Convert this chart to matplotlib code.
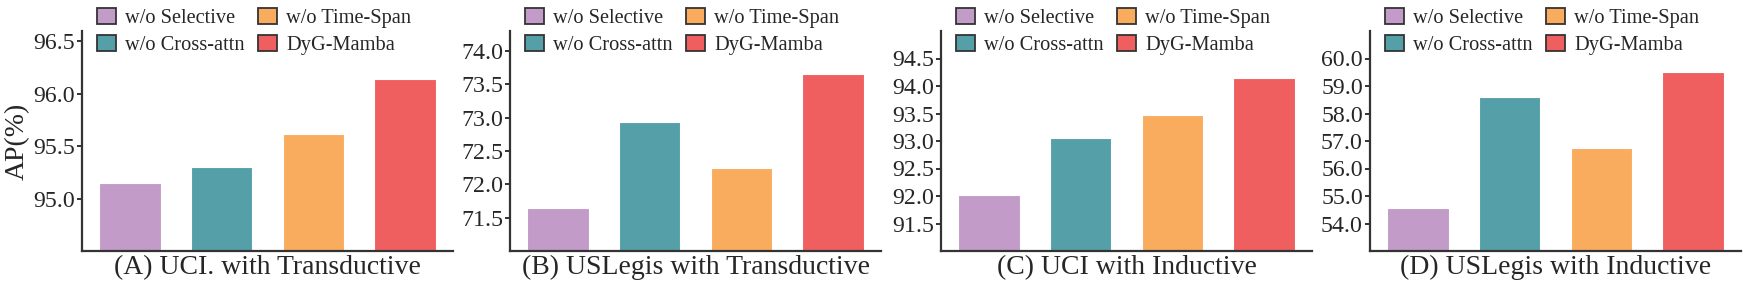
import matplotlib
matplotlib.use("Agg")
import matplotlib.pyplot as plt
from matplotlib.patches import Patch
from matplotlib.ticker import FormatStrFormatter

plt.rcParams['font.family'] = ['Liberation Serif', 'DejaVu Serif']

methods = ["w/o Selective", "w/o Cross-attn", "w/o Time-Span", "DyG-Mamba"]
colors = ["#C39BC9", "#559FA8", "#F9AB5E", "#F05F5F"]

titles = ["(A) UCI. with Transductive", "(B) USLegis with Transductive",
          "(C) UCI with Inductive", "(D) USLegis with Inductive"]
uci_trans = [95.15, 95.30, 95.62, 96.14]
uslegis_trans = [71.64, 72.93, 72.25, 73.65]
uci_ind = [92.01, 93.06, 93.48, 94.15]
uslegis_ind = [54.58, 58.61, 56.75, 59.51]
values = [uci_trans, uslegis_trans, uci_ind, uslegis_ind]

ylims = [(94.5, 96.6), (71.0, 74.3), (91.0, 95.0), (53.0, 61.0)]
yticks = [[95.0, 95.5, 96.0, 96.5],
          [71.5, 72.0, 72.5, 73.0, 73.5, 74.0],
          [91.5, 92.0, 92.5, 93.0, 93.5, 94.0, 94.5],
          [54.0, 55.0, 56.0, 57.0, 58.0, 59.0, 60.0]]

W, H = 1743, 291
fig = plt.figure(figsize=(W / 100, H / 100), dpi=100)
lefts = [82, 510, 941, 1370]
axw, axb, axh = 371, 40, 220
txt = "#262626"
spc = "#333333"

for i in range(4):
    ax = fig.add_axes([lefts[i] / W, axb / H, axw / W, axh / H])
    x = list(range(len(methods)))
    ax.bar(x, values[i], width=0.67, color=colors, edgecolor="white", linewidth=0.8, zorder=2)
    ax.set_xlim(-0.52, 3.52)
    ax.set_ylim(*ylims[i])
    ax.set_yticks(yticks[i])
    ax.yaxis.set_major_formatter(FormatStrFormatter('%.1f'))
    ax.set_xticks([])
    for s in ["top", "right"]:
        ax.spines[s].set_visible(False)
    for s in ["left", "bottom"]:
        ax.spines[s].set_color(spc)
        ax.spines[s].set_linewidth(1.6)
    ax.tick_params(axis='y', labelsize=17.2, length=3.6, width=1.4, color=spc,
                   labelcolor=txt, pad=1.5)
    ax.set_xlabel(titles[i], fontsize=20, color=txt, labelpad=3)
    if i == 0:
        ax.set_ylabel("AP(%)", fontsize=20, color=txt, labelpad=2.5)
    handles = [Patch(facecolor=c, edgecolor="#333333", linewidth=1.3) for c in colors]
    ax.legend(handles, methods, ncol=2, loc='upper left', bbox_to_anchor=(0.041, 1.105),
              frameon=False, fontsize=14.7, handlelength=0.93, handleheight=0.82,
              handletextpad=0.455, columnspacing=0.62, labelspacing=0.36,
              borderpad=0, borderaxespad=0, labelcolor=txt)

fig.savefig("out.png", dpi=100)
